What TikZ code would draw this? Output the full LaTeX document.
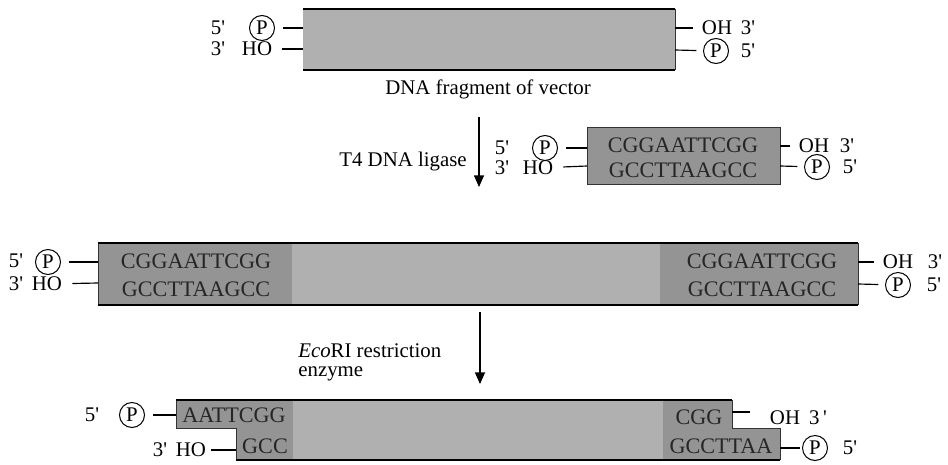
\documentclass[tikz,border=0pt]{standalone}
\usepackage{fontspec}
\setmainfont{Liberation Serif}
\usetikzlibrary{arrows.meta,positioning}
\definecolor{vecgray}{gray}{0.69}
\definecolor{seqgray}{gray}{0.58}
\newcommand{\prm}{\textquotesingle}
\tikzset{lbl/.style={font=\fontsize{12.5}{14}\selectfont,inner sep=0pt}}
\tikzset{seq/.style={lbl,font=\fontsize{13.3}{14}\selectfont,text=black!85}}
\tikzset{phos/.style={lbl,draw,circle,minimum size=15pt,line width=0.6pt}}
\tikzset{bond/.style={line width=0.7pt}}
\tikzset{strand/.style={line width=1.5pt}}
\tikzset{edge/.style={line width=0.5pt,black!80}}
\tikzset{dnaarrow/.style={line width=0.8pt,-{Triangle[length=7pt,width=6pt]}}}

\begin{document}
\begin{tikzpicture}[x=0.6pt,y=-0.6pt]
\useasboundingbox (0,0) rectangle (948,465);

% vector
\fill[vecgray] (303,9) rectangle (675,70);
\draw[edge] (675,9) -- (675,70);
\draw[strand] (303,9) -- (675,9);
\draw[strand] (303,70) -- (675,70);

\node[lbl] (v5) at (218,28) {5\prm};
\node[phos] (vp) at (262,28) {P};
\node[lbl] (v3) at (218,49) {3\prm};
\node[lbl] (vho) at (257,49) {HO};
\coordinate (va) at (303,28);
\coordinate (vb) at (303,49);
\draw[bond,shorten <=5pt] (vp) -- (va);
\draw[bond,shorten <=6pt] (vho) -- (vb);

\coordinate (vc) at (675,28);
\coordinate (vd) at (675,50);
\node[lbl] (voh) at (717,28) {OH};
\node[lbl] (v3r) at (748,28) {3\prm};
\node[phos] (vpr) at (716,51) {P};
\node[lbl] (v5r) at (748,51) {5\prm};
\draw[bond,shorten >=5pt] (vc) -- (voh);
\draw[bond,shorten >=4pt] (vd) -- (vpr);

\node[lbl] (vlab) at (488,89) {DNA fragment of vector};

% ligase step
\coordinate (a1s) at (479,117);
\coordinate (a1e) at (479,187);
\draw[dnaarrow] (a1s) -- (a1e);
\node[lbl,anchor=east] (lig) at (467,162) {T4 DNA ligase};

% linker
\draw[edge,fill=seqgray] (587,127) rectangle (780,184);
\node[seq] (lk1) at (683,145) {CGGAATTCGG};
\node[seq] (lk2) at (683,170) {GCCTTAAGCC};

\node[lbl] (l5) at (502,148) {5\prm};
\node[phos] (lp) at (545,148) {P};
\node[lbl] (l3) at (502,168) {3\prm};
\node[lbl] (lho) at (538,168) {HO};
\coordinate (la) at (587,148);
\coordinate (lb) at (587,166);
\draw[bond,shorten <=5pt] (lp) -- (la);
\draw[bond,shorten <=6pt] (lho) -- (lb);

\coordinate (lc) at (780,146);
\coordinate (ld) at (780,166);
\node[lbl] (loh) at (814,146) {OH};
\node[lbl] (l3r) at (847,146) {3\prm};
\node[phos] (lpr) at (817,167) {P};
\node[lbl] (l5r) at (850,167) {5\prm};
\draw[bond,shorten >=5pt] (lc) -- (loh);
\draw[bond,shorten >=4pt] (ld) -- (lpr);

% ligated product
\fill[vecgray] (98,243) rectangle (858,305);
\fill[seqgray] (98,243) rectangle (292,305);
\fill[seqgray] (660,243) rectangle (858,305);
\draw[edge] (98,243) -- (98,305);
\draw[edge] (858,243) -- (858,305);
\draw[strand] (98,243) -- (858,243);
\draw[strand] (98,305) -- (858,305);

\node[seq] (m1) at (196,261) {CGGAATTCGG};
\node[seq] (m2) at (196,289) {GCCTTAAGCC};
\node[seq] (m3) at (762,261) {CGGAATTCGG};
\node[seq] (m4) at (762,289) {GCCTTAAGCC};

\node[lbl] (m5) at (16,261) {5\prm};
\node[phos] (mp) at (48,262) {P};
\node[lbl] (m3l) at (16,284) {3\prm};
\node[lbl] (mho) at (47,284) {HO};
\coordinate (ma) at (98,262);
\coordinate (mb) at (98,283);
\draw[bond,shorten <=5pt] (mp) -- (ma);
\draw[bond,shorten <=6pt] (mho) -- (mb);

\coordinate (mc) at (858,262);
\coordinate (md) at (858,284);
\node[lbl] (moh) at (898,262) {OH};
\node[lbl] (m3r) at (935,262) {3\prm};
\node[phos] (mpr) at (898,285) {P};
\node[lbl] (m5r) at (934,285) {5\prm};
\draw[bond,shorten >=5pt] (mc) -- (moh);
\draw[bond,shorten >=4pt] (md) -- (mpr);

% EcoRI step
\coordinate (a2s) at (480,312);
\coordinate (a2e) at (480,384);
\draw[dnaarrow] (a2s) -- (a2e);
\node[lbl,anchor=west] (eco1) at (298,351) {\textit{Eco}RI restriction};
\node[lbl,anchor=west] (eco2) at (298,374) {enzyme};

% cut product
\fill[vecgray] (176,400) -- (732,400) -- (732,428) -- (780,428) -- (780,460) -- (236,460) -- (236,428) -- (176,428) -- cycle;
\fill[seqgray] (176,400) rectangle (293,428);
\fill[seqgray] (236,428) rectangle (293,460);
\fill[seqgray] (663,400) rectangle (732,428);
\fill[seqgray] (663,428) rectangle (780,460);
\draw[edge] (176,400) -- (176,428) -- (236,428) -- (236,460);
\draw[edge] (732,400) -- (732,428) -- (780,428) -- (780,460);
\draw[strand] (176,400) -- (732,400);
\draw[strand] (236,460) -- (780,460);

\node[seq] (c1) at (234,415) {AATTCGG};
\node[seq] (c2) at (265,446) {GCC};
\node[seq] (c3) at (699,417) {CGG};
\node[seq] (c4) at (721,446) {GCCTTAA};

\node[lbl] (c5) at (92,415) {5\prm};
\node[phos] (cp) at (132,415) {P};
\node[lbl] (c3l) at (160,450) {3\prm};
\node[lbl] (cho) at (191,450) {HO};
\coordinate (ca) at (176,415);
\coordinate (cb) at (236,450);
\draw[bond,shorten <=5pt] (cp) -- (ca);
\draw[bond,shorten <=3pt] (cho) -- (cb);

\coordinate (cc) at (732,412);
\coordinate (ce) at (750,412);
\coordinate (cd) at (780,448);
\node[lbl] (coh) at (785,418) {OH};
\node[lbl] (c3r) at (818,418) {3\,\prm};
\node[phos] (cpr) at (815,448) {P};
\node[lbl] (c5r) at (850,448) {5\prm};
\draw[bond] (cc) -- (ce);
\draw[bond,shorten >=1pt] (cd) -- (cpr);

\end{tikzpicture}
\end{document}
